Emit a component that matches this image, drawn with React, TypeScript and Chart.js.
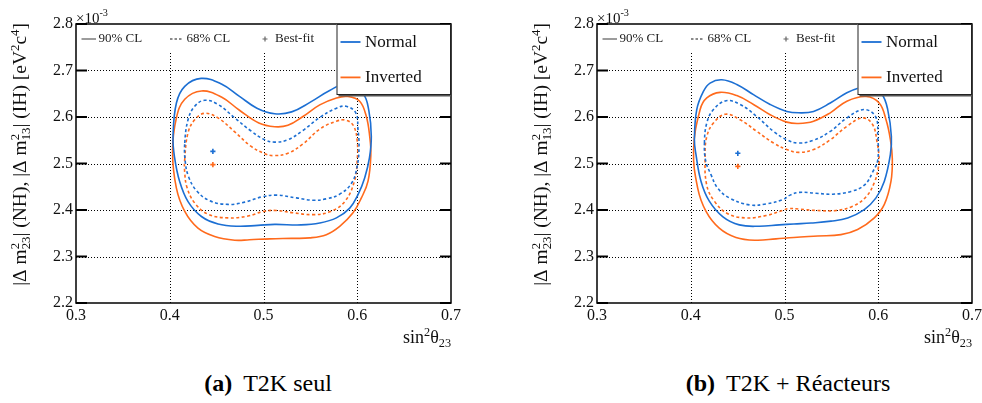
import React, { useEffect, useRef } from "react";
import { Chart, registerables } from "chart.js";

Chart.register(...registerables);

// ---------- axes ----------
const X_TICKS = [0.3, 0.4, 0.5, 0.6, 0.7];
const Y_TICKS = [2.2, 2.3, 2.4, 2.5, 2.6, 2.7, 2.8];

// ---------- (a) T2K seul ----------
const A_NH90_X = [0.4035, 0.4071, 0.416, 0.4335, 0.4551, 0.474, 0.493, 0.512, 0.53, 0.55, 0.5706, 0.588, 0.6062, 0.6125, 0.615, 0.613, 0.6079, 0.6008, 0.592, 0.5778, 0.56, 0.54, 0.512, 0.4941, 0.4728, 0.4515, 0.4338, 0.4195, 0.4106, 0.405];
const A_NH90_Y = [2.558, 2.63, 2.666, 2.683, 2.671, 2.645, 2.619, 2.607, 2.611, 2.632, 2.657, 2.671, 2.65, 2.612, 2.558, 2.512, 2.469, 2.433, 2.404, 2.383, 2.372, 2.368, 2.369, 2.367, 2.365, 2.37, 2.386, 2.418, 2.461, 2.515];
const A_IH90_X = [0.403, 0.4071, 0.416, 0.4338, 0.4551, 0.474, 0.495, 0.512, 0.526, 0.5421, 0.56, 0.5778, 0.59, 0.6026, 0.6097, 0.6133, 0.6145, 0.6115, 0.6044, 0.5955, 0.5813, 0.567, 0.5493, 0.53, 0.5066, 0.485, 0.4693, 0.4479, 0.4301, 0.416, 0.4071];
const A_IH90_Y = [2.525, 2.598, 2.638, 2.656, 2.643, 2.615, 2.587, 2.579, 2.582, 2.601, 2.626, 2.641, 2.644, 2.634, 2.601, 2.558, 2.519, 2.462, 2.426, 2.394, 2.365, 2.347, 2.34, 2.339, 2.338, 2.336, 2.335, 2.343, 2.361, 2.397, 2.447];
const A_NH68_X = [0.416, 0.4195, 0.4266, 0.4373, 0.4515, 0.4693, 0.486, 0.5013, 0.512, 0.526, 0.5421, 0.56, 0.5778, 0.588, 0.5984, 0.6008, 0.6019, 0.6, 0.594, 0.5813, 0.567, 0.5528, 0.5351, 0.514, 0.4978, 0.48, 0.4621, 0.4426, 0.4284, 0.42, 0.4165];
const A_NH68_Y = [2.544, 2.594, 2.623, 2.636, 2.627, 2.598, 2.571, 2.551, 2.546, 2.551, 2.571, 2.599, 2.619, 2.623, 2.609, 2.573, 2.537, 2.495, 2.458, 2.434, 2.424, 2.421, 2.426, 2.432, 2.428, 2.417, 2.412, 2.42, 2.442, 2.472, 2.505];
const A_IH68_X = [0.416, 0.4195, 0.4266, 0.4373, 0.4515, 0.4693, 0.486, 0.5013, 0.511, 0.526, 0.5421, 0.56, 0.5778, 0.588, 0.596, 0.6, 0.6, 0.597, 0.5866, 0.5706, 0.5528, 0.5315, 0.5138, 0.5, 0.4835, 0.4621, 0.4408, 0.4266, 0.4185, 0.416];
const A_IH68_Y = [2.51, 2.566, 2.594, 2.608, 2.598, 2.568, 2.538, 2.521, 2.517, 2.522, 2.542, 2.574, 2.591, 2.593, 2.581, 2.548, 2.508, 2.462, 2.418, 2.396, 2.39, 2.394, 2.399, 2.397, 2.387, 2.383, 2.391, 2.415, 2.448, 2.48];
const A_BEST_X = [0.446, 0.446];
const A_BEST_Y = [2.526, 2.4975];

// ---------- (b) T2K + Réacteurs ----------
const B_NH90_X = [0.4039, 0.4064, 0.4135, 0.4206, 0.4331, 0.4491, 0.4669, 0.4847, 0.5025, 0.515, 0.531, 0.5488, 0.5665, 0.58, 0.592, 0.604, 0.6101, 0.614, 0.6129, 0.6065, 0.5976, 0.5851, 0.5674, 0.5496, 0.5283, 0.51, 0.4944, 0.4731, 0.4518, 0.434, 0.4198, 0.4109, 0.4056];
const B_NH90_Y = [2.551, 2.616, 2.655, 2.673, 2.68, 2.67, 2.648, 2.627, 2.612, 2.609, 2.612, 2.63, 2.652, 2.663, 2.667, 2.649, 2.616, 2.558, 2.519, 2.462, 2.426, 2.401, 2.383, 2.376, 2.372, 2.37, 2.368, 2.365, 2.368, 2.386, 2.419, 2.462, 2.519];
const B_IH90_X = [0.403, 0.41, 0.4171, 0.4313, 0.4491, 0.4669, 0.4847, 0.5025, 0.515, 0.531, 0.5488, 0.5665, 0.587, 0.601, 0.6083, 0.613, 0.615, 0.6136, 0.6065, 0.5958, 0.578, 0.5602, 0.5354, 0.51, 0.4909, 0.4696, 0.4482, 0.4304, 0.4163, 0.4074];
const B_IH90_Y = [2.53, 2.616, 2.641, 2.653, 2.646, 2.627, 2.605, 2.589, 2.586, 2.591, 2.609, 2.634, 2.644, 2.63, 2.594, 2.551, 2.51, 2.462, 2.412, 2.383, 2.358, 2.347, 2.344, 2.341, 2.338, 2.335, 2.341, 2.361, 2.397, 2.447];
const B_NH68_X = [0.4146, 0.4171, 0.4242, 0.4377, 0.4527, 0.4705, 0.4883, 0.5025, 0.515, 0.531, 0.5488, 0.5665, 0.5846, 0.5971, 0.5995, 0.5995, 0.5944, 0.5855, 0.5709, 0.5514, 0.5336, 0.5159, 0.506, 0.498, 0.4803, 0.4625, 0.4411, 0.4287, 0.4216, 0.416];
const B_NH68_Y = [2.544, 2.587, 2.616, 2.635, 2.627, 2.601, 2.569, 2.551, 2.544, 2.55, 2.569, 2.598, 2.616, 2.601, 2.558, 2.508, 2.483, 2.454, 2.44, 2.434, 2.436, 2.438, 2.432, 2.422, 2.413, 2.411, 2.426, 2.447, 2.476, 2.505];
const B_IH68_X = [0.4153, 0.4171, 0.4242, 0.437, 0.4527, 0.4705, 0.4883, 0.5025, 0.515, 0.531, 0.5488, 0.5665, 0.5834, 0.5939, 0.5989, 0.601, 0.6, 0.5962, 0.5873, 0.5727, 0.555, 0.5336, 0.5159, 0.504, 0.498, 0.4803, 0.459, 0.4394, 0.4252, 0.417];
const B_IH68_Y = [2.515, 2.558, 2.587, 2.606, 2.594, 2.569, 2.544, 2.53, 2.524, 2.53, 2.551, 2.58, 2.598, 2.584, 2.544, 2.508, 2.49, 2.461, 2.429, 2.408, 2.399, 2.399, 2.402, 2.403, 2.399, 2.388, 2.383, 2.392, 2.419, 2.454];
const B_BEST_X = [0.4502, 0.4502];
const B_BEST_Y = [2.5219, 2.4939];

// ---------- styles ----------
const BLUE = "#1c6fd3";
const ORANGE = "#ff6a1c";
const SERIF = "'Liberation Serif', 'DejaVu Serif', serif";
const CANVAS_W = 491;
const CANVAS_H = 360;

type Piece = { t: string; sup?: string; sub?: string };

function richWidth(ctx: CanvasRenderingContext2D, pieces: Piece[], size: number, scr: number) {
  let w = 0;
  for (const p of pieces) {
    ctx.font = `${size}px ${SERIF}`;
    w += ctx.measureText(p.t).width;
    ctx.font = `${size * scr}px ${SERIF}`;
    const a = p.sup ? ctx.measureText(p.sup).width : 0;
    const b = p.sub ? ctx.measureText(p.sub).width : 0;
    w += Math.max(a, b);
  }
  return w;
}

function drawRich(ctx: CanvasRenderingContext2D, pieces: Piece[], x: number, y: number, size: number, scr: number, up: number, down: number) {
  ctx.textAlign = "left";
  ctx.textBaseline = "alphabetic";
  for (const p of pieces) {
    ctx.font = `${size}px ${SERIF}`;
    ctx.fillText(p.t, x, y);
    x += ctx.measureText(p.t).width;
    ctx.font = `${size * scr}px ${SERIF}`;
    let a = 0, b = 0;
    if (p.sup) { ctx.fillText(p.sup, x, y - up * size); a = ctx.measureText(p.sup).width; }
    if (p.sub) { ctx.fillText(p.sub, x, y + down * size); b = ctx.measureText(p.sub).width; }
    x += Math.max(a, b);
  }
}

const Y_TITLE: Piece[] = [
  { t: "|\u0394 m", sup: "2", sub: "23" },
  { t: "| (NH), |\u0394 m", sup: "2", sub: "13" },
  { t: "| (IH) [eV", sup: "2" },
  { t: "c", sup: "4" },
  { t: "]" },
];
const X_TITLE: Piece[] = [{ t: "sin", sup: "2" }, { t: "\u03b8", sub: "23" }];
const EXPONENT: Piece[] = [{ t: "\u00d710", sup: "-3" }];

function pts(xs: number[], ys: number[]) {
  return xs.map((x, i) => ({ x, y: ys[i] }));
}

function contour(label: string, xs: number[], ys: number[], color: string, dashed: boolean) {
  return {
    label,
    data: pts(xs, ys),
    borderColor: color,
    backgroundColor: color,
    borderWidth: 1.6,
    borderDash: dashed ? [3, 2.5] : [],
    pointRadius: 0,
    tension: 0.4,
    fill: false,
    closed: true,
  };
}

function bestFit(label: string, xs: number[], ys: number[], idx: number, color: string) {
  return {
    label,
    data: [{ x: xs[idx], y: ys[idx] }],
    showLine: false,
    pointStyle: "cross",
    pointRadius: 2.6,
    pointBorderWidth: 1.6,
    borderColor: color,
    backgroundColor: color,
  };
}

function makeDecor() {
  return {
    id: "decor",
    afterDatasetUpdate(chart: any, args: any) {
      const ds = chart.data.datasets[args.index];
      if (!ds || !ds.closed) return;
      const line = chart.getDatasetMeta(args.index).dataset;
      if (!line) return;
      line._loop = true;
      line._fullLoop = true;
      line.points = line.points;
    },
    beforeDatasetsDraw(chart: any) {
      const { ctx, chartArea: a, scales } = chart;
      const xs = scales.x, ys = scales.y;
      ctx.save();
      ctx.strokeStyle = "#000";
      ctx.lineWidth = 1;
      ctx.setLineDash([1, 2]);
      for (const v of Y_TICKS) {
        if (v <= ys.min + 1e-9 || v >= ys.max - 1e-9) continue;
        const y = Math.round(ys.getPixelForValue(v)) + 0.5;
        ctx.beginPath(); ctx.moveTo(a.left, y); ctx.lineTo(a.right, y); ctx.stroke();
      }
      const vTop = a.top + 27;
      for (const v of X_TICKS) {
        if (v <= xs.min + 1e-9 || v >= xs.max - 1e-9) continue;
        const x = Math.round(xs.getPixelForValue(v)) + 0.5;
        ctx.beginPath(); ctx.moveTo(x, a.bottom); ctx.lineTo(x, vTop); ctx.stroke();
      }
      ctx.restore();
    },
    afterDatasetsDraw(chart: any) {
      const { ctx, chartArea: a, scales } = chart;
      const ys = scales.y;
      ctx.save();
      // inside tick marks
      ctx.strokeStyle = "#000";
      ctx.lineWidth = 2;
      for (const v of Y_TICKS) {
        const y = ys.getPixelForValue(v);
        ctx.beginPath(); ctx.moveTo(a.left, y); ctx.lineTo(a.left + 11, y); ctx.stroke();
        ctx.beginPath(); ctx.moveTo(a.right - 11, y); ctx.lineTo(a.right, y); ctx.stroke();
      }
      // frame
      ctx.lineWidth = 1.5;
      ctx.strokeRect(a.left, a.top, a.right - a.left, a.bottom - a.top);

      // top (line-style) legend
      const ly = a.top + 15;
      ctx.strokeStyle = "#666";
      ctx.lineWidth = 1.3;
      ctx.beginPath(); ctx.moveTo(a.left + 5.5, ly); ctx.lineTo(a.left + 20, ly); ctx.stroke();
      ctx.setLineDash([2.5, 2]);
      ctx.beginPath(); ctx.moveTo(a.left + 94, ly); ctx.lineTo(a.left + 107, ly); ctx.stroke();
      ctx.setLineDash([]);
      ctx.lineWidth = 1.2;
      const mx = a.left + 189;
      ctx.beginPath(); ctx.moveTo(mx - 2.5, ly); ctx.lineTo(mx + 2.5, ly); ctx.moveTo(mx, ly - 2.5); ctx.lineTo(mx, ly + 2.5); ctx.stroke();
      ctx.fillStyle = "#222";
      ctx.font = `13px ${SERIF}`;
      ctx.textBaseline = "middle";
      ctx.textAlign = "left";
      ctx.fillText("90% CL", a.left + 22.5, ly);
      ctx.fillText("68% CL", a.left + 110.5, ly);
      ctx.fillText("Best-fit", a.left + 199, ly);

      // hierarchy legend box
      const bw = 114.5, bh = 71;
      const bx = a.right - bw, by = a.top;
      ctx.fillStyle = "#555";
      ctx.fillRect(bx + 2, by + bh - 0.5, bw - 2, 2);
      ctx.fillStyle = "#fff";
      ctx.fillRect(bx, by, bw, bh);
      ctx.strokeStyle = "#222";
      ctx.lineWidth = 1;
      ctx.strokeRect(bx + 0.5, by + 0.5, bw - 1, bh - 1);
      const entries: [string, string, number][] = [["Normal", BLUE, 18], ["Inverted", ORANGE, 53.4]];
      for (const [txt, col, dy] of entries) {
        ctx.strokeStyle = col;
        ctx.lineWidth = 1.8;
        ctx.beginPath(); ctx.moveTo(bx + 4, by + dy); ctx.lineTo(bx + 24, by + dy); ctx.stroke();
        ctx.fillStyle = "#111";
        ctx.font = `17px ${SERIF}`;
        ctx.textBaseline = "middle";
        ctx.fillText(txt, bx + 28.5, by + dy + 0.5);
      }

      // exponent
      ctx.fillStyle = "#111";
      drawRich(ctx, EXPONENT, a.left, a.top - 1, 15, 0.68, 0.45, 0);

      // x title (right aligned)
      const xw = richWidth(ctx, X_TITLE, 18, 0.68);
      drawRich(ctx, X_TITLE, a.right - xw, a.bottom + 40, 18, 0.68, 0.38, 0.22);

      // y title (rotated, aligned to top end)
      const ySize = 19.5;
      const yw = richWidth(ctx, Y_TITLE, ySize, 0.66);
      ctx.save();
      ctx.translate(a.left - 50, a.top - 1 + yw);
      ctx.rotate(-Math.PI / 2);
      drawRich(ctx, Y_TITLE, 0, 0, ySize, 0.66, 0.36, 0.22);
      ctx.restore();
      ctx.restore();
    },
  };
}

function buildConfig(datasets: any[], yAxisWidth: number, rightPad: number) {
  const tickFont = { family: SERIF, size: 16 };
  return {
    type: "line",
    data: { datasets },
    options: {
      responsive: false,
      animation: false,
      devicePixelRatio: 1,
      events: [],
      layout: { padding: { left: 0, right: rightPad, top: 24, bottom: 0 } },
      plugins: { legend: { display: false }, tooltip: { enabled: false }, title: { display: false } },
      scales: {
        x: {
          type: "linear",
          min: X_TICKS[0],
          max: X_TICKS[X_TICKS.length - 1],
          afterBuildTicks: (s: any) => { s.ticks = X_TICKS.map((value) => ({ value })); },
          afterFit: (s: any) => { s.height = CANVAS_H - 303; s.paddingLeft = 0; s.paddingRight = 0; },
          ticks: { font: tickFont, color: "#111", padding: 3, maxRotation: 0, autoSkip: false, callback: (v: any) => Number(v).toFixed(1) },
          grid: { display: false, drawTicks: false },
          border: { display: false },
        },
        y: {
          type: "linear",
          min: Y_TICKS[0],
          max: Y_TICKS[Y_TICKS.length - 1],
          afterBuildTicks: (s: any) => { s.ticks = Y_TICKS.map((value) => ({ value })); },
          afterFit: (s: any) => { s.width = yAxisWidth; s.paddingTop = 0; s.paddingBottom = 0; },
          ticks: { font: tickFont, color: "#111", padding: 3, autoSkip: false, callback: (v: any) => Number(v).toFixed(1) },
          grid: { display: false, drawTicks: false },
          border: { display: false },
        },
      },
    },
    plugins: [makeDecor()],
  };
}

export default function App() {
  const leftRef = useRef<HTMLCanvasElement | null>(null);
  const rightRef = useRef<HTMLCanvasElement | null>(null);

  useEffect(() => {
    const leftSets = [
      contour("Normal 90% CL", A_NH90_X, A_NH90_Y, BLUE, false),
      contour("Inverted 90% CL", A_IH90_X, A_IH90_Y, ORANGE, false),
      contour("Normal 68% CL", A_NH68_X, A_NH68_Y, BLUE, true),
      contour("Inverted 68% CL", A_IH68_X, A_IH68_Y, ORANGE, true),
      bestFit("Normal best-fit", A_BEST_X, A_BEST_Y, 0, BLUE),
      bestFit("Inverted best-fit", A_BEST_X, A_BEST_Y, 1, ORANGE),
    ];
    const rightSets = [
      contour("Normal 90% CL", B_NH90_X, B_NH90_Y, BLUE, false),
      contour("Inverted 90% CL", B_IH90_X, B_IH90_Y, ORANGE, false),
      contour("Normal 68% CL", B_NH68_X, B_NH68_Y, BLUE, true),
      contour("Inverted 68% CL", B_IH68_X, B_IH68_Y, ORANGE, true),
      bestFit("Normal best-fit", B_BEST_X, B_BEST_Y, 0, BLUE),
      bestFit("Inverted best-fit", B_BEST_X, B_BEST_Y, 1, ORANGE),
    ];
    const c1 = new Chart(leftRef.current as HTMLCanvasElement, buildConfig(leftSets, 76, 40) as any);
    const c2 = new Chart(rightRef.current as HTMLCanvasElement, buildConfig(rightSets, 106, 10) as any);
    return () => { c1.destroy(); c2.destroy(); };
  }, []);

  const capStyle: React.CSSProperties = {
    position: "absolute",
    top: 371,
    width: 320,
    textAlign: "center",
    fontFamily: SERIF,
    fontSize: 24,
    lineHeight: "24px",
    color: "#000",
    whiteSpace: "nowrap",
  };

  return (
    <div style={{ position: "absolute", left: 0, top: 0, width: 982, height: 403, background: "#fff", overflow: "hidden" }}>
      <canvas ref={leftRef} width={CANVAS_W} height={CANVAS_H} style={{ position: "absolute", left: 0, top: 0, width: CANVAS_W, height: CANVAS_H }} />
      <canvas ref={rightRef} width={CANVAS_W} height={CANVAS_H} style={{ position: "absolute", left: CANVAS_W, top: 0, width: CANVAS_W, height: CANVAS_H }} />
      <div style={{ ...capStyle, left: 268 - 160 }}>
        <b style={{ marginRight: 11 }}>(a)</b>T2K seul
      </div>
      <div style={{ ...capStyle, left: 788 - 160 }}>
        <b style={{ marginRight: 11 }}>(b)</b>T2K + Réacteurs
      </div>
    </div>
  );
}
